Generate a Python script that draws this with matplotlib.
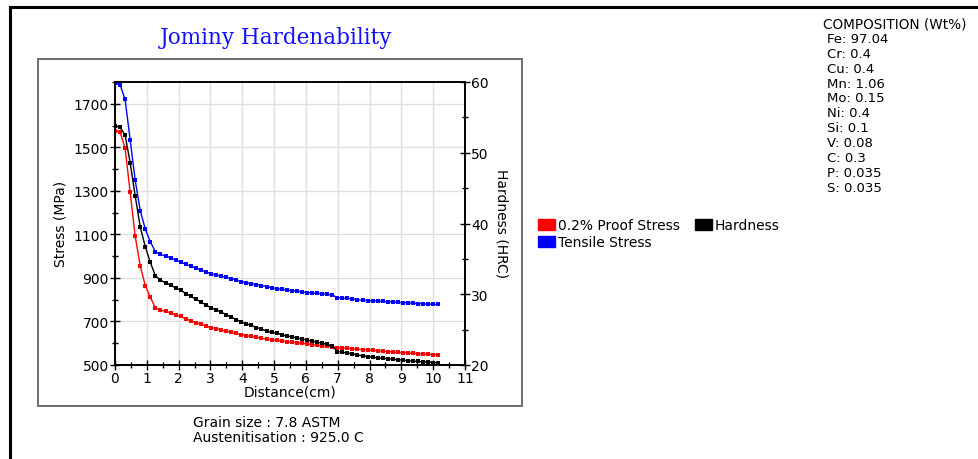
import numpy as np
import matplotlib
matplotlib.use("Agg")
import matplotlib.pyplot as plt
from matplotlib.patches import Rectangle
from matplotlib.lines import Line2D

W, H = 979, 460

# Jominy stations every 1/16 inch (0 .. 4 in), in cm
stations_sixteenths = list(range(65))
distance_cm = [s * 2.54 / 16 for s in stations_sixteenths]

proof_stress = [
    1577, 1570, 1496, 1294, 1092, 954, 865, 811, 762, 752,
    746, 740, 731, 723, 712, 703, 695, 687, 679, 672,
    667, 661, 655, 650, 645, 639, 635, 631, 627, 623,
    619, 616, 613, 610, 607, 605, 602, 600, 597, 594,
    591, 588, 586, 583, 580, 578, 577, 575, 573, 571,
    569, 567, 565, 563, 562, 560, 558, 557, 555, 554,
    552, 551, 549, 548, 547,
]

tensile_stress = [
    1795, 1787, 1720, 1534, 1349, 1209, 1124, 1066, 1020, 1008,
    1000, 993, 981, 973, 963, 953, 945, 937, 928, 919,
    913, 908, 902, 897, 890, 882, 878, 874, 869, 865,
    860, 855, 851, 848, 845, 842, 839, 836, 833, 831,
    829, 827, 825, 822, 810, 808, 806, 804, 800, 797,
    796, 795, 794, 792, 791, 789, 788, 787, 786, 784,
    782, 781, 780, 779, 778,
]

hardness_hrc = [
    53.8, 53.6, 52.5, 48.6, 43.9, 39.5, 36.7, 34.5, 32.6, 32.0,
    31.6, 31.3, 30.9, 30.6, 30.1, 29.7, 29.3, 28.9, 28.5, 28.1,
    27.8, 27.5, 27.1, 26.8, 26.4, 26.1, 25.8, 25.6, 25.3, 25.1,
    24.8, 24.6, 24.5, 24.3, 24.1, 24.0, 23.8, 23.7, 23.5, 23.4,
    23.2, 23.1, 22.9, 22.7, 21.9, 21.8, 21.7, 21.6, 21.4, 21.3,
    21.2, 21.1, 21.0, 20.95, 20.9, 20.8, 20.75, 20.7, 20.6, 20.55,
    20.5, 20.45, 20.4, 20.35, 20.3,
]

x_ticks = list(range(0, 12))
stress_ticks = [500, 700, 900, 1100, 1300, 1500, 1700]
hrc_ticks = [20, 30, 40, 50, 60]

composition = [
    ("Fe", "97.04"), ("Cr", "0.4"), ("Cu", "0.4"), ("Mn", "1.06"),
    ("Mo", "0.15"), ("Ni", "0.4"), ("Si", "0.1"), ("V", "0.08"),
    ("C", "0.3"), ("P", "0.035"), ("S", "0.035"),
]
grain_size = "7.8 ASTM"
austenitisation = "925.0 C"


def fx(x):
    return x / W


def fy(y):
    return 1 - y / H


plt.rcParams["font.family"] = ["DejaVu Sans"]

fig = plt.figure(figsize=(W / 100, H / 100), dpi=100)
fig.patch.set_facecolor("white")

# frames
fig.add_artist(Line2D([fx(9.5), fx(9.5)], [fy(7.5), fy(460)], color="black", lw=2.2))
fig.add_artist(Line2D([fx(9.5), fx(979)], [fy(7.5), fy(7.5)], color="black", lw=2.2))
fig.add_artist(Rectangle((fx(37.5), fy(406.5)), fx(522.5) - fx(37.5), fy(60) - fy(406.5),
                         fill=False, edgecolor="#6e6e6e", lw=1.4))

left, right, top, bottom = 115, 465, 83, 366
ax = fig.add_axes([fx(left), fy(bottom), fx(right) - fx(left), fy(top) - fy(bottom)])
ax2 = ax.twinx()

ax.set_xlim(0, 11)
ax.set_ylim(500, 1800)
ax2.set_ylim(20, 60)

ax.set_xticks(x_ticks)
ax.set_xticks([v + 0.5 for v in x_ticks[:-1]], minor=True)
ax.set_yticks(stress_ticks)
ax.set_yticks([v + 100 for v in stress_ticks], minor=True)
ax2.set_yticks(hrc_ticks)
ax2.set_yticks([v + 5 for v in hrc_ticks[:-1]], minor=True)

ax.grid(True, which="major", color="#e0e0e0", lw=1.0)
ax.set_axisbelow(True)

for a in (ax, ax2):
    for s in a.spines.values():
        s.set_color("black")
        s.set_linewidth(1.2)
ax.tick_params(which="major", direction="inout", length=7, width=1, labelsize=10, pad=1)
ax.tick_params(which="minor", direction="inout", length=5, width=1)
ax2.tick_params(which="major", direction="inout", length=7, width=1, labelsize=10, pad=1)
ax2.tick_params(which="minor", direction="inout", length=5, width=1)

mk = dict(lw=1.0, marker="s", ms=3.4, markeredgewidth=0, zorder=3)
ax.plot(distance_cm, proof_stress, color="#ff0000", **mk)
ax.plot(distance_cm, tensile_stress, color="#0000ff", **mk)
ax2.plot(distance_cm, hardness_hrc, color="black", **mk)

# axis titles
fig.text(fx(60), fy(224), "Stress (MPa)", rotation=90, ha="center", va="center", fontsize=10)
fig.text(fx(502), fy(224), "Hardness (HRC)", rotation=270, ha="center", va="center", fontsize=10)
fig.text(fx(290), fy(393), "Distance(cm)", ha="center", va="center", fontsize=10)

fig.text(fx(276), fy(38), "Jominy Hardenability", ha="center", va="center",
         fontsize=15.5, color="#1010ff", family=["DejaVu Serif"])

# legend
legend_items = [
    ("0.2% Proof Stress", "#ff0000", 538, 220),
    ("Hardness", "black", 695, 220),
    ("Tensile Stress", "#0000ff", 538, 237),
]
for label, color, x0, y0 in legend_items:
    fig.add_artist(Rectangle((fx(x0), fy(y0 + 11)), 17 / W, 11 / H, color=color))
    fig.text(fx(x0 + 20), fy(y0 + 6), label, ha="left", va="center", fontsize=10)

# composition block
fig.text(fx(823), fy(25), "COMPOSITION (Wt%)", ha="left", va="center", fontsize=9.8)
for i, (el, val) in enumerate(composition):
    fig.text(fx(827), fy(39.5 + i * 14.85), f"{el}: {val}", ha="left", va="center", fontsize=9.5)

fig.text(fx(193), fy(423), f"Grain size : {grain_size}", ha="left", va="center", fontsize=10)
fig.text(fx(193), fy(438), f"Austenitisation : {austenitisation}", ha="left", va="center", fontsize=10)

fig.savefig("out.png", dpi=100)
